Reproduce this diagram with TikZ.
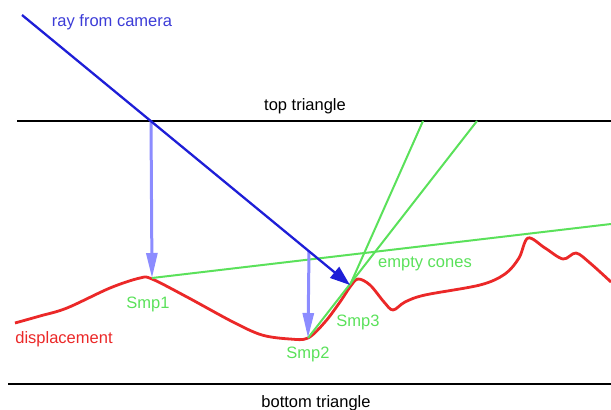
\documentclass[tikz,border=0pt]{standalone}
\usepackage{fontspec}
\setmainfont{Liberation Sans}
\usetikzlibrary{arrows.meta}

\begin{document}
\begin{tikzpicture}[x=1pt,y=-1pt,
    lbl/.style={inner sep=0pt, font=\fontsize{16.5}{18}\selectfont},
    probe/.style={draw=\colorP, line width=3pt, -{Triangle[length=25pt,width=11pt]}},
    cone/.style={draw=\colorG, line width=2pt},
    plane/.style={draw=black, line width=2pt}]
    % Colori
    \definecolor{rayblue}{RGB}{30,30,215}
    \definecolor{raytext}{RGB}{60,60,215}
    \definecolor{conegreen}{RGB}{90,225,90}
    \definecolor{dispred}{RGB}{235,40,40}
    \def\colorR{dispred}
    \def\colorG{conegreen}
    \def\colorP{blue!45}
    \useasboundingbox (0,0) rectangle (611,410);

    % Punti
    \coordinate (cam) at (22,15);
    \coordinate (hit1) at (151,121);
    \coordinate (hit2) at (309,251);
    \coordinate (smp1) at (152,278);
    \coordinate (smp2) at (308,338);
    \coordinate (smp3) at (350,285);
    \coordinate (topL) at (17,121);
    \coordinate (topR) at (611,121);
    \coordinate (botL) at (8,384);
    \coordinate (botR) at (611,384);
    \coordinate (cone1) at (477,121);
    \coordinate (cone2) at (423,121);
    \coordinate (gEnd) at (611,224);

    % Triangoli
    \draw[plane] (topL) -- (topR);
    \draw[plane] (botL) -- (botR);
    \node[lbl] (top) at (305,106) {top triangle};
    \node[lbl] (bot) at (316,403) {bottom triangle};

    % Displacement
    \draw[\colorR, line width=2.8pt, line join=round] plot[smooth, tension=0.55] coordinates {
        (15,323) (40,316) (67,308) (110,288) (140,278) (152,279) (187,297)
        (233,322) (262,335) (290,339) (308,338) (325,322) (340,302) (350,287)
        (358,279) (370,285) (384,302) (393,310) (405,302) (425,295) (480,285)
        (505,274) (519,258) (528,238) (545,248) (563,259) (576,253) (590,263) (611,282)};
    \node[lbl, text=\colorR] (disp) at (64,339) {displacement};

    % Coni vuoti
    \draw[cone] (smp1) -- (gEnd);
    \draw[cone] (smp2) -- (cone1);
    \draw[cone] (smp3) -- (cone2);
    \node[lbl, text=\colorG] (ec) at (425,264) {empty cones};
    \node[lbl, text=\colorG] (s1) at (148,304) {Smp1};
    \node[lbl, text=\colorG] (s2) at (308,354) {Smp2};
    \node[lbl, text=\colorG] (s3) at (358,322) {Smp3};

    % Campionamenti
    \draw[probe] (hit1) -- (smp1);
    \draw[probe] (hit2) -- (smp2);

    % Raggio
    \draw[rayblue, line width=2.3pt, -{Triangle[length=20pt,width=14pt]}] (cam) -- (smp3);
    \node[lbl, text=raytext] (ray) at (112,22) {ray from camera};
\end{tikzpicture}
\end{document}
